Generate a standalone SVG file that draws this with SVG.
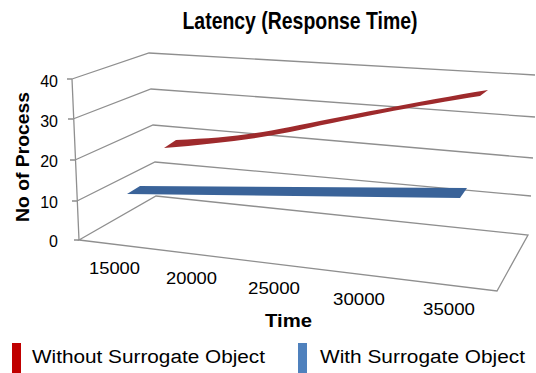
<svg xmlns="http://www.w3.org/2000/svg" width="536" height="373" viewBox="0 0 536 373">
<style>
.grid{fill:none;stroke:#8f8f8f;stroke-width:1.3}
.t{font-family:"Liberation Sans",Arial,sans-serif;fill:#000}
.b{font-weight:bold}
.tick{font-size:16px;text-anchor:end}
.xl{font-size:17px}
.leg{font-size:18px}
</style>
<rect width="536" height="373" fill="#fff"/>
<g id="axes">
<path class="grid" d="M72,79 L149,53 L535,75"/>
<path class="grid" d="M73,119 L151,89 L535,117"/>
<path class="grid" d="M75,160 L153,125 L533,158"/>
<path class="grid" d="M77,201 L155,162 L531,196"/>
<path class="grid" d="M79,240 L156,196 L528,235 L497,291 Z"/>
<path class="grid" d="M72,79 L79,240 M67,79 H72 M68,119 H73 M70,160 H75 M72,201 H77 M74,240 H79"/>
</g>
<g id="series-without">
<path d="M164,148 L176,140 C220,138 250,135 290,127 C340,117 420,101 488,90 L480,96 C420,105 340,121 290,132 C250,140 210,144 164,148 Z" fill="#9e2a2c"/>
</g>
<g id="series-with">
<path d="M127,194 L140,186 L467,188 L460,198 Z" fill="#3a6399"/>
</g>
<g id="title">
<text class="t b" x="300" y="29" font-size="24" text-anchor="middle" textLength="235" lengthAdjust="spacingAndGlyphs">Latency (Response Time)</text>
</g>
<g id="y-labels">
<text class="t tick" x="58" y="87">40</text>
<text class="t tick" x="58" y="127">30</text>
<text class="t tick" x="58" y="167">20</text>
<text class="t tick" x="58" y="208">10</text>
<text class="t tick" x="58" y="247">0</text>
<text class="t b" font-size="19" transform="translate(29,157) rotate(-90)" text-anchor="middle" textLength="130" lengthAdjust="spacingAndGlyphs">No of Process</text>
</g>
<g id="x-labels">
<text class="t xl" x="89" y="274" textLength="51" lengthAdjust="spacingAndGlyphs">15000</text>
<text class="t xl" x="166" y="284" textLength="51" lengthAdjust="spacingAndGlyphs">20000</text>
<text class="t xl" x="248" y="294" textLength="52" lengthAdjust="spacingAndGlyphs">25000</text>
<text class="t xl" x="333" y="305" textLength="52" lengthAdjust="spacingAndGlyphs">30000</text>
<text class="t xl" x="423" y="315" textLength="52" lengthAdjust="spacingAndGlyphs">35000</text>
<text class="t b" x="265" y="327" font-size="19" textLength="47" lengthAdjust="spacingAndGlyphs">Time</text>
</g>
<g id="legend">
<rect x="12" y="343" width="9" height="30" fill="#c00000"/>
<text class="t leg" x="32" y="363" textLength="233" lengthAdjust="spacingAndGlyphs">Without Surrogate Object</text>
<rect x="298" y="343" width="9" height="30" fill="#4f81bd"/>
<text class="t leg" x="320" y="363" textLength="205" lengthAdjust="spacingAndGlyphs">With Surrogate Object</text>
</g>
</svg>
